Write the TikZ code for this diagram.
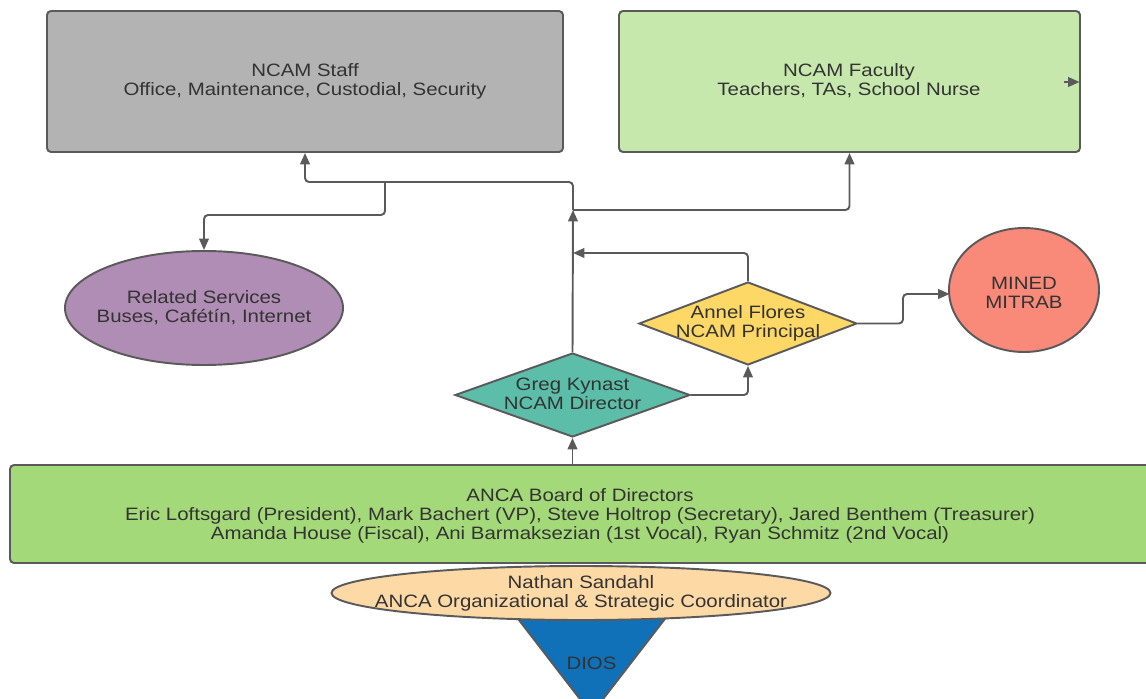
\documentclass[tikz,border=0pt]{standalone}
\usepackage{fontspec}
\setmainfont{Liberation Sans}[FakeStretch=1.14]
\usetikzlibrary{shapes.geometric,arrows.meta,calc}
\definecolor{edgec}{HTML}{5A5A5A}
\definecolor{txtc}{HTML}{333333}
\definecolor{staffc}{HTML}{B3B3B3}
\definecolor{facc}{HTML}{C6E8AC}
\definecolor{relc}{HTML}{B08DB4}
\definecolor{minc}{HTML}{F98A7A}
\definecolor{annc}{HTML}{FDD866}
\definecolor{gregc}{HTML}{5CBEA8}
\definecolor{boardc}{HTML}{A3D978}
\definecolor{natc}{HTML}{FDD9A6}
\definecolor{diosc}{HTML}{1071B8}
\newcommand\pxu{0.02cm}
\newcommand\lbl{\fontsize{10.2}{10.8}\selectfont}
\begin{document}
\begin{tikzpicture}[x=0.02cm,y=-0.02cm,
  shapebox/.style={draw=edgec, line width=1.1pt, inner sep=0pt},
  rbox/.style={shapebox, rectangle, rounded corners=0.08cm},
  lbltext/.style={font=\lbl, text=txtc, align=center, inner sep=0pt},
  conn/.style={draw=edgec, line width=1.1pt, rounded corners=0.08cm, -{Triangle[length=6.5pt,width=5.5pt]}},
  plain/.style={draw=edgec, line width=1.1pt, rounded corners=0.08cm}
]
\useasboundingbox (0,0) rectangle (1146,699);
\clip (0,0) rectangle (1146,699);

% boxes
\node[rbox, fill=staffc, minimum width=516*\pxu, minimum height=141*\pxu] (staff) at (305,81.5) {};
\node[lbltext] (stafft) at (305,81) {NCAM Staff\\Office, Maintenance, Custodial, Security};
\node[rbox, fill=facc, minimum width=461*\pxu, minimum height=141*\pxu] (faculty) at (849.5,81.5) {};
\node[lbltext] (facultyt) at (849,81) {NCAM Faculty\\Teachers, TAs, School Nurse};

\node[shapebox, ellipse, fill=relc, minimum width=278*\pxu, minimum height=114*\pxu] (related) at (204,308) {};
\node[lbltext] (relatedt) at (204,308) {Related Services\\Buses, Caf\'et\'{\i}n, Internet};

\node[shapebox, ellipse, fill=minc, minimum width=150*\pxu, minimum height=124*\pxu] (mined) at (1024,290) {};
\node[lbltext] (minedt) at (1024,293) {MINED\\MITRAB};

\node[shapebox, diamond, fill=annc, minimum width=218*\pxu, minimum height=83*\pxu] (annel) at (748,323.5) {};
\node[lbltext] (annelt) at (748,323) {Annel Flores\\NCAM Principal};

\node[shapebox, diamond, fill=gregc, minimum width=235*\pxu, minimum height=84*\pxu] (greg) at (572.5,395) {};
\node[lbltext] (gregt) at (572.5,394) {Greg Kynast\\NCAM Director};

\node[rbox, fill=boardc, minimum width=1150*\pxu, minimum height=98*\pxu] (board) at (585,514) {};
\node[lbltext] (boardt) at (580,516) {ANCA Board of Directors\\Eric Loftsgard (President), Mark Bachert (VP), Steve Holtrop (Secretary), Jared Benthem (Treasurer)\\Amanda House (Fiscal), Ani Barmaksezian (1st Vocal), Ryan Schmitz (2nd Vocal)};

% DIOS triangle
\coordinate (dtl) at (503.5,600);
\coordinate (dtr) at (679.5,600);
\coordinate (dap) at (591.5,714);
\fill[diosc] (dtl) -- (dtr) -- (dap) -- cycle;
\draw[edgec, line width=1.1pt] (dtr) -- (dap) -- (dtl);
\node[lbltext] (dios) at (591.5,663) {DIOS};

\node[shapebox, ellipse, fill=natc, minimum width=499*\pxu, minimum height=54*\pxu] (nathan) at (581,593) {};
\node[lbltext] (nathant) at (581,593) {Nathan Sandahl\\ANCA Organizational \& Strategic Coordinator};

% junction coordinates
\coordinate (j1) at (573,210);
\coordinate (j2) at (573,253);
\coordinate (j3) at (573,182);
\coordinate (j4) at (385,182);
\coordinate (j5) at (385,215);
\coordinate (j6) at (903,323.5);
\coordinate (j7) at (903,294);
\coordinate (mw) at (949.5,294);
\coordinate (fstub) at (1064,82);
\coordinate (fend) at (1079.5,82);

% connectors
\draw[conn] (board.north -| greg.south) -- (greg.south);
\draw[conn] (greg.east) -| (annel.south);
\draw[conn] (annel.north) |- (j2);
\draw[conn] (greg.north) -- (j1);
\draw[conn] (j1) -- (j3) -| (staff.south);
\draw[conn] (j1) -| (faculty.south);
\draw[conn] (j4) -- (j5) -| (related.north);
\draw[conn] (annel.east) -- (j6) -- (j7) -- (mw);
\draw[conn] (fstub) -- (fend);
\end{tikzpicture}
\end{document}
